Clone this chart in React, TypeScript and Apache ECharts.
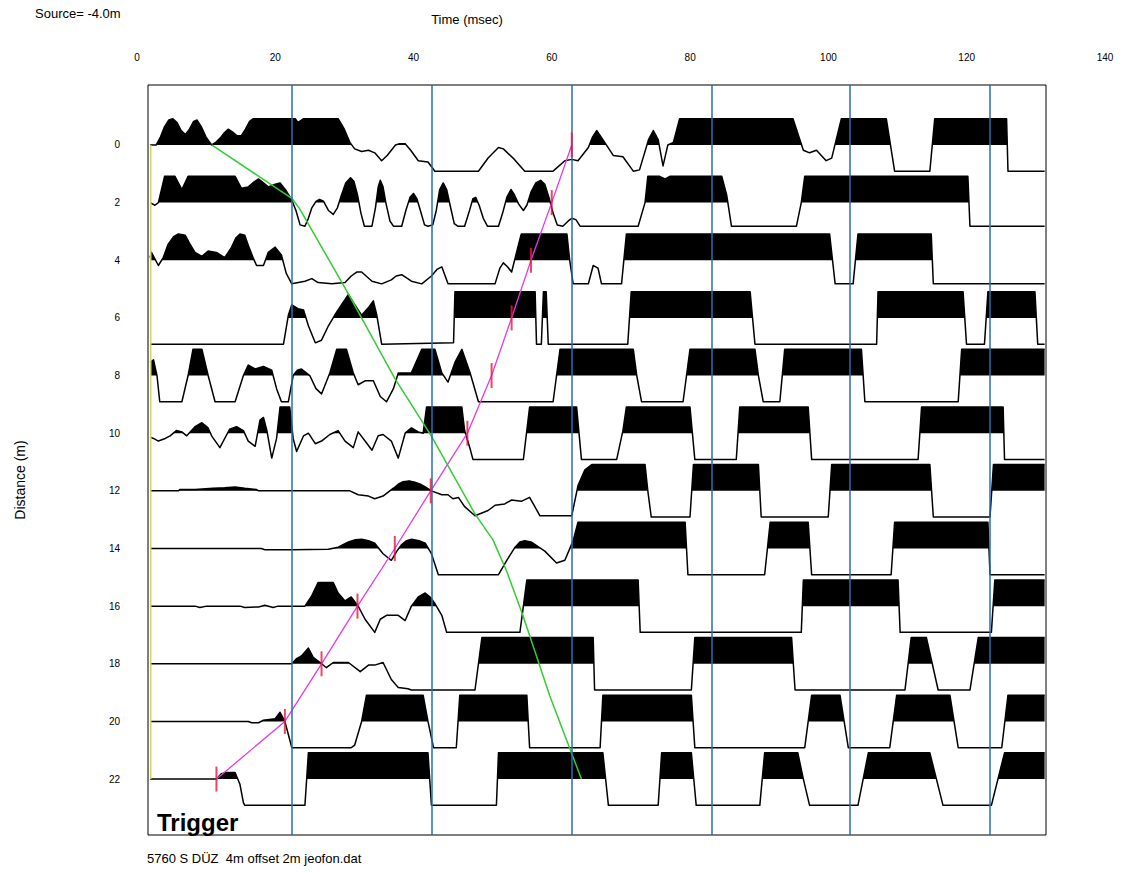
import React, { useEffect, useRef } from "react";
import * as echarts from "echarts";

// Trace offsets (m) and axis tick labels
const distances = [0, 2, 4, 6, 8, 10, 12, 14, 16, 18, 20, 22];
const timeTicks = [0, 20, 40, 60, 80, 100, 120, 140];
// Blue timing lines (ms)
const timingLines = [22.4, 42.6, 62.9, 83.1, 103.1, 123.4];
// Trigger (yellow) line time
const triggerTime = 2.0;

// Wiggle traces: [time ms, normalised amplitude (clip = ±1)]
const trace0 = [[1.9,0],[2.8,0],[3.4,0.3],[4.0,0.7],[4.6,0.95],[5.2,1],[5.8,0.85],[6.4,0.55],[7.0,0.4],[7.6,0.6],[8.2,0.9],[8.7,0.95],[9.3,0.7],[10.0,0.3],[10.8,0],[11.4,0.1],[12.0,0.25],[12.6,0.45],[13.2,0.6],[13.8,0.5],[14.5,0.35],[15.1,0.35],[15.7,0.6],[16.3,0.9],[16.8,1],[22.9,1],[23.3,0.85],[24.1,1],[29.1,1],[30.0,0.6],[30.8,0.1],[31.5,-0.15],[32.5,-0.25],[33.5,-0.2],[34.4,-0.3],[35.4,-0.6],[36.2,-0.4],[36.8,-0.2],[37.4,0],[38.0,0.05],[38.8,0.05],[39.6,-0.2],[40.7,-0.6],[42.1,-0.65],[43.1,-1],[49.4,-1],[50.8,-0.5],[52.3,-0.1],[53.0,-0.15],[54.6,-0.55],[56.1,-1],[60.2,-1],[61.9,-0.6],[62.9,-0.55],[63.8,-0.6],[65.3,-0.1],[65.9,0.3],[66.5,0.55],[67.4,0.2],[67.9,0],[68.9,-0.4],[70.3,-0.45],[71.8,-1],[72.7,-0.95],[74.0,0.2],[74.7,0.55],[75.4,0.2],[76.1,-0.8],[76.8,0],[77.6,0.1],[78.5,1],[94.9,1],[96.4,-0.2],[97.3,-0.3],[98.3,-0.2],[99.7,-0.6],[100.5,-0.5],[101.9,1],[108.4,1],[109.6,-1],[114.7,-1],[115.4,1],[125.8,1],[126.0,-1],[131.3,-1]];
const trace2 = [[1.9,0],[2.6,-0.1],[3.1,0],[4.0,1],[5.5,1],[6.5,0.5],[7.4,1],[14.2,1],[15.1,0.55],[16.1,0.6],[17.0,0.8],[17.6,0.9],[18.3,0.75],[19.0,0.6],[20.0,0.7],[20.7,0.75],[21.6,0.45],[22.4,0.1],[23.0,-0.3],[23.6,-0.85],[24.3,-0.9],[24.8,-0.6],[25.3,-0.2],[25.9,0.05],[26.4,0.12],[27.0,0.05],[27.7,-0.3],[28.4,-0.45],[29.0,-0.2],[29.6,0.3],[30.2,0.75],[30.9,0.95],[31.4,0.8],[31.9,0.3],[32.4,-0.4],[32.9,-0.9],[34.0,-0.9],[34.5,-0.2],[34.9,0.6],[35.2,0.85],[35.6,0.6],[36.0,0],[36.6,-0.7],[37.1,-0.9],[38.3,-0.9],[38.9,-0.3],[39.5,0.2],[40.0,0.35],[40.5,0.15],[41.0,-0.3],[41.6,-0.85],[42.1,-0.9],[42.8,-0.85],[43.3,-0.3],[43.8,0.5],[44.3,0.75],[44.8,0.5],[45.3,-0.1],[45.9,-0.8],[46.4,-0.9],[47.4,-0.9],[48.0,-0.4],[48.6,0.15],[49.0,0.2],[49.5,-0.1],[50.1,-0.6],[50.7,-0.9],[52.3,-0.9],[52.9,-0.4],[53.5,0.2],[54.1,0.5],[54.6,0.3],[55.2,-0.05],[55.9,-0.3],[56.4,-0.1],[57.0,0.4],[57.7,0.75],[58.4,0.85],[59.0,0.7],[59.6,0.2],[60.2,-0.4],[60.8,-0.85],[61.6,-0.9],[62.4,-0.7],[62.9,-0.6],[63.5,-0.65],[64.1,-0.9],[72.5,-0.9],[73.5,0],[73.9,1],[75.6,1],[76.4,0.9],[77.1,1],[84.6,1],[85.3,0.3],[86.0,-0.9],[95.4,-0.9],[96.1,0],[96.6,1],[120.2,1],[120.5,-0.9],[131.3,-0.9]];
const trace4 = [[1.9,0.1],[2.1,0.3],[3.1,-0.2],[3.8,0.1],[4.5,0.6],[5.3,0.9],[6.0,1],[7.0,0.95],[7.7,0.6],[8.4,0.3],[9.4,0.15],[10.3,0.35],[11.5,0.3],[12.7,0.1],[13.7,0.5],[14.3,0.85],[14.9,1],[15.6,0.95],[16.2,0.5],[16.8,0.1],[17.3,-0.2],[18.3,-0.2],[19.0,0.3],[20.0,0.5],[20.9,0.2],[21.6,-0.5],[22.4,-0.9],[24.3,-0.8],[25.3,-0.7],[26.2,-0.85],[28.2,-0.9],[30.1,-0.85],[31.0,-0.6],[31.8,-0.45],[32.5,-0.45],[34.0,-0.8],[35.4,-0.9],[36.8,-0.75],[37.5,-0.6],[38.3,-0.55],[39.7,-0.8],[41.2,-0.9],[42.6,-0.6],[43.4,-0.35],[44.1,-0.25],[45.0,-0.9],[51.8,-0.9],[52.5,-0.3],[53.0,-0.1],[53.6,-0.25],[54.2,-0.45],[55.2,0.6],[55.6,1],[62.2,1],[62.6,0],[63.1,-0.9],[65.3,-0.9],[66.0,-0.2],[66.7,-0.3],[67.2,-0.9],[70.1,-0.9],[70.8,1],[100.2,1],[101.0,-0.9],[103.6,-0.9],[104.3,1],[114.9,1],[115.2,-0.9],[131.3,-0.9]];
const trace6 = [[1.9,-1],[21.2,-1],[21.9,0.1],[22.4,0.5],[23.3,0.35],[24.1,0.3],[24.8,-0.3],[25.8,-0.95],[26.7,-0.85],[27.7,-0.3],[28.6,0.1],[29.6,0.5],[30.6,0.9],[31.5,0.5],[32.5,0.1],[33.5,0.4],[34.2,0.65],[34.7,0.1],[35.4,-1],[45.8,-0.95],[46.0,1],[57.6,1],[57.8,-1],[58.5,-1],[58.8,1],[59.2,1],[59.5,-1],[71.0,-1],[71.5,1],[88.7,1],[89.4,-1],[107.0,-1],[107.2,1],[119.5,1],[120.0,-1],[122.6,-1],[123.1,1],[129.9,1],[130.3,-1],[131.3,-1]];
const trace8 = [[1.9,0.5],[2.4,0.6],[2.9,0],[3.3,-1],[6.5,-1],[7.4,0],[8.1,1],[9.4,1],[10.3,0],[11.3,-1],[14.2,-1],[15.4,0],[16.1,0.4],[17.1,0.25],[18.3,0.35],[19.5,0.2],[20.2,-0.5],[20.9,-1],[21.9,-1],[22.6,0],[23.2,0.2],[23.8,0.25],[25.0,0],[25.9,-0.5],[26.7,-0.7],[27.9,0.1],[28.9,1],[30.3,1],[31.3,0.1],[32.0,-0.35],[33.0,-0.2],[34.2,-0.2],[35.2,-0.8],[36.1,-1],[37.1,-0.5],[37.8,0.1],[39.7,0.1],[41.2,1],[43.1,1],[44.1,0.1],[45.0,-0.25],[46.0,0.5],[47.0,1],[48.2,0.1],[49.4,-1],[60.2,-1],[61.2,1],[71.8,1],[72.3,0],[73.0,-1],[79.0,-1],[80.0,1],[89.4,1],[89.9,0],[90.6,-1],[93.0,-1],[93.7,1],[104.8,1],[105.3,-1],[118.8,-1],[119.3,1],[131.3,1]];
const trace10 = [[1.9,-0.15],[2.4,-0.2],[3.1,-0.3],[4.1,-0.2],[4.8,-0.1],[5.7,0.1],[6.5,0.05],[7.2,-0.1],[8.4,0.25],[9.4,0.4],[10.3,0.2],[10.8,-0.1],[12.0,-0.55],[13.4,0.15],[14.4,0.25],[15.4,0.1],[16.1,-0.3],[17.1,-0.5],[17.8,0.5],[18.3,0.6],[18.8,0.1],[19.5,-0.95],[20.2,-0.2],[20.7,1],[22.1,1],[22.6,-0.2],[23.1,-0.7],[24.1,-0.1],[24.8,0],[25.8,-0.4],[26.7,-0.3],[27.9,-0.05],[29.1,0.1],[30.1,-0.3],[31.3,-0.55],[32.0,0.05],[33.0,-0.3],[34.0,-0.65],[34.9,-0.1],[35.6,-0.05],[36.8,-0.3],[37.8,-0.95],[38.8,0],[39.7,0.2],[40.7,0.05],[41.4,0],[41.9,1],[47.0,1],[47.4,0.1],[48.2,-0.6],[48.6,-1],[55.9,-1],[56.8,1],[63.6,1],[64.3,-1],[69.4,-1],[70.3,0.1],[70.8,1],[80.0,1],[80.7,-1],[86.7,-1],[87.2,1],[97.1,1],[97.6,-1],[113.0,-1],[113.5,1],[125.3,1],[125.5,-1],[131.3,-1]];
const trace12 = [[1.9,0],[6.0,0],[6.2,0.05],[8.4,0.05],[11.0,0.1],[12.7,0.12],[14.2,0.15],[15.6,0.1],[17.3,0.05],[17.6,0],[30.8,0],[32.0,-0.15],[33.5,-0.2],[34.4,-0.3],[35.6,-0.2],[37.1,0.1],[37.8,0.25],[38.5,0.35],[39.4,0.38],[40.2,0.33],[41.0,0.25],[41.7,0.15],[42.6,0],[44.1,-0.15],[45.0,-0.15],[45.7,-0.3],[46.5,-0.25],[47.4,-0.6],[48.9,-0.95],[50.8,-0.75],[51.8,-0.55],[53.2,-0.5],[54.2,-0.35],[55.6,-0.4],[56.8,-0.25],[58.3,-0.95],[62.9,-0.95],[63.8,0.2],[64.8,0.8],[65.8,1],[73.5,1],[73.9,0],[74.4,-1],[80.0,-1],[80.5,1],[89.9,1],[90.3,-1],[100.0,-1],[100.5,1],[114.7,1],[115.2,-1],[123.4,-1],[123.9,1],[131.3,1]];
const trace14 = [[1.9,0],[18.0,0],[18.5,-0.05],[22.4,-0.05],[27.7,-0.03],[29.1,0.05],[30.6,0.25],[31.6,0.33],[32.5,0.35],[33.5,0.3],[34.4,0.2],[35.6,-0.2],[36.8,-0.45],[37.6,-0.1],[38.3,0.15],[39.0,0.3],[39.7,0.35],[40.8,0.3],[41.7,0.2],[42.6,-0.2],[43.6,-1],[52.3,-1],[53.5,-0.45],[54.7,0.05],[55.4,0.25],[56.1,0.3],[57.0,0.25],[57.6,0.15],[59.0,-0.1],[60.7,-0.55],[61.9,-0.45],[63.1,0.3],[63.8,1],[79.3,1],[79.7,-1],[90.8,-1],[91.6,1],[97.1,1],[97.6,-1],[109.1,-1],[109.6,1],[123.1,1],[123.4,-1],[131.3,-1]];
const trace16 = [[1.9,0],[8.4,0],[9.1,-0.05],[10.1,0],[14.9,0],[15.6,-0.05],[17.6,-0.03],[18.5,0.03],[19.7,-0.05],[20.4,0],[24.3,0],[25.3,0.4],[26.2,0.9],[28.4,0.9],[29.1,0.5],[30.1,0.2],[31.0,0.35],[32.0,0],[33.0,-0.5],[34.4,-1],[35.2,-0.5],[36.1,-0.35],[37.8,-0.35],[38.8,-0.55],[39.7,0],[40.7,0.35],[41.7,0.5],[42.4,0.35],[43.1,0.1],[44.1,-0.35],[44.8,-1],[55.4,-1],[56.4,1],[72.5,1],[72.8,-1],[96.1,-1],[96.4,1],[110.1,1],[110.4,-1],[123.6,-1],[124.1,1],[131.3,1]];
const trace18 = [[1.9,0],[22.4,0],[23.1,0.2],[23.8,0.3],[24.8,0.6],[25.5,0.25],[26.5,0.05],[27.4,-0.15],[28.4,0.05],[30.6,0.05],[32.3,-0.3],[33.5,-0.05],[34.4,-0.05],[35.6,0.05],[36.8,-0.6],[37.8,-0.9],[39.2,-0.95],[39.7,-1],[48.9,-1],[49.9,1],[66.0,1],[66.2,-1],[80.2,-1],[80.7,1],[94.7,1],[95.2,-1],[111.1,-1],[112.0,1],[114.2,1],[115.9,-1],[120.5,-1],[121.7,1],[131.3,1]];
const trace20 = [[1.9,0],[16.1,0],[16.6,-0.05],[17.6,-0.05],[18.3,0.05],[20.0,0.1],[20.7,0.35],[21.4,0],[21.9,-0.5],[22.4,-1],[31.0,-1],[31.5,-0.9],[32.5,0],[33.2,1],[41.4,1],[42.1,0],[42.9,-1],[46.2,-1],[46.7,1],[56.4,1],[56.8,-1],[67.0,-1],[67.4,1],[80.2,1],[80.7,-1],[96.6,-1],[97.6,1],[101.7,1],[102.9,-1],[108.9,-1],[109.9,1],[117.6,1],[118.8,-1],[125.1,-1],[126.0,1],[131.3,1]];
const trace22 = [[1.9,0],[11.5,0],[12.2,0.2],[13.0,0.25],[14.2,0.25],[14.9,-0.2],[15.4,-0.9],[15.6,-1],[24.3,-1],[24.8,1],[42.1,1],[42.6,-1],[52.0,-1],[52.3,1],[67.4,1],[68.2,-1],[75.4,-1],[75.9,1],[80.2,1],[80.9,-1],[90.1,-1],[90.8,1],[95.6,1],[96.4,0],[97.3,-1],[104.3,-1],[105.8,1],[114.7,1],[116.6,-1],[123.6,-1],[125.5,1],[131.3,1]];
const traces = [trace0, trace2, trace4, trace6, trace8, trace10, trace12, trace14, trace16, trace18, trace20, trace22];

// First-break picks (magenta, ms) per trace distance
const firstBreaks = [62.9, 60.0, 57.0, 54.2, 51.3, 47.8, 42.5, 37.3, 31.9, 26.7, 21.4, 11.5];
// Green fitted travel-time curve [ms, m]
const greenCurve = [[10.8,0],[22.4,1.85],[23.5,2.2],[30.1,4.96],[37.3,8.1],[42.6,10.1],[48.9,12.8],[51.5,13.7],[53.5,14.8],[55.8,16.3],[59.7,19.1],[64.3,22]];

const AMP = 0.91; // metres of trace offset per unit amplitude
const FONT = "'Liberation Sans', Arial, sans-serif";

export default function App() {
  const ref = useRef<HTMLDivElement>(null);
  useEffect(() => {
    if (!ref.current) return;
    const chart = echarts.init(ref.current, null, { renderer: "svg" });
    const picks = firstBreaks.map((t, i) => [t, distances[i]]);
    const option: any = {
      animation: false,
      backgroundColor: "#fff",
      grid: [
        { left: 148, top: 85, width: 898, height: 750, show: true, borderColor: "#000", borderWidth: 1, backgroundColor: "transparent" },
        { left: 137, top: 70, width: 968, height: 1, show: false },
      ],
      xAxis: [
        { type: "value", gridIndex: 0, min: 1.6, max: 131.5, show: false },
        {
          type: "value", gridIndex: 1, position: "top", min: timeTicks[0], max: timeTicks[timeTicks.length - 1], interval: 20,
          axisLine: { show: false }, axisTick: { show: false }, splitLine: { show: false },
          axisLabel: { fontSize: 10, color: "#000", margin: 8, fontFamily: FONT },
        },
      ],
      yAxis: [
        {
          type: "value", gridIndex: 0, min: -2.08, max: 23.94, inverse: true,
          axisLine: { show: false }, axisTick: { show: false }, splitLine: { show: false },
          axisLabel: { customValues: distances, fontSize: 10, color: "#000", margin: 28, fontFamily: FONT },
        },
        { type: "value", gridIndex: 1, show: false },
      ],
      series: [
        {
          type: "custom",
          xAxisIndex: 0, yAxisIndex: 0, z: 2,
          data: distances.map((d, i) => [traces[i][0][0], d]),
          encode: { x: 0, y: 1 },
          renderItem: (params: any, api: any) => {
            const i = params.dataIndex;
            const d = distances[i];
            const pts = traces[i];
            const line = pts.map(([t, a]) => api.coord([t, d - a * AMP]));
            const fill: number[][] = [];
            for (let k = 0; k < pts.length; k++) {
              const [t, a] = pts[k];
              if (k > 0) {
                const [t0, a0] = pts[k - 1];
                if ((a0 > 0 && a < 0) || (a0 < 0 && a > 0)) {
                  const tc = t0 + ((t - t0) * (0 - a0)) / (a - a0);
                  fill.push(api.coord([tc, d]));
                }
              }
              fill.push(api.coord([t, d - Math.max(a, 0) * AMP]));
            }
            fill.push(api.coord([pts[pts.length - 1][0], d]));
            fill.push(api.coord([pts[0][0], d]));
            return {
              type: "group",
              children: [
                { type: "polygon", shape: { points: fill }, style: { fill: "#000", stroke: "none" } },
                { type: "polyline", shape: { points: line }, style: { stroke: "#000", lineWidth: 1.5, fill: "none", lineJoin: "round" } },
              ],
            };
          },
        },
        {
          type: "line", xAxisIndex: 0, yAxisIndex: 0, z: 3,
          data: [[triggerTime, 0], [triggerTime, 22]],
          symbol: "none", lineStyle: { color: "#d9d36a", width: 1.5 },
          markLine: {
            silent: true, symbol: "none", label: { show: false },
            lineStyle: { color: "#2a6db5", width: 1.5, type: "solid" },
            data: timingLines.map((t) => ({ xAxis: t })),
          },
        },
        {
          type: "line", xAxisIndex: 0, yAxisIndex: 0, z: 4,
          data: greenCurve, symbol: "none", lineStyle: { color: "#33cc33", width: 1.5 },
        },
        {
          type: "line", xAxisIndex: 0, yAxisIndex: 0, z: 4,
          data: picks, symbol: "none", lineStyle: { color: "#e23be2", width: 1.3 },
        },
        {
          type: "scatter", xAxisIndex: 0, yAxisIndex: 0, z: 5,
          data: picks, symbol: "rect", symbolSize: [2, 25], itemStyle: { color: "#e8183c" },
        },
      ],
      graphic: [
        { type: "text", x: 35, y: 13, style: { text: "Source= -4.0m", font: `13px ${FONT}`, fill: "#000", align: "left", verticalAlign: "middle" } },
        { type: "text", x: 467, y: 19, style: { text: "Time (msec)", font: `13px ${FONT}`, fill: "#000", align: "center", verticalAlign: "middle" } },
        { type: "text", x: 20, y: 480, rotation: Math.PI / 2, style: { text: "Distance (m)", font: `14px ${FONT}`, fill: "#000", align: "center", verticalAlign: "middle" } },
        { type: "text", x: 147, y: 858, style: { text: "5760 S DÜZ  4m offset 2m jeofon.dat", font: `13px ${FONT}`, fill: "#000", align: "left", verticalAlign: "middle" } },
        { type: "text", x: 157, y: 810, style: { text: "Trigger", font: `bold 24px ${FONT}`, fill: "#000", align: "left", verticalAlign: "alphabetic" } },
      ],
    };
    chart.setOption(option);
    return () => chart.dispose();
  }, []);
  return <div ref={ref} style={{ position: "fixed", left: 0, top: 0, width: 1136, height: 873 }} />;
}
